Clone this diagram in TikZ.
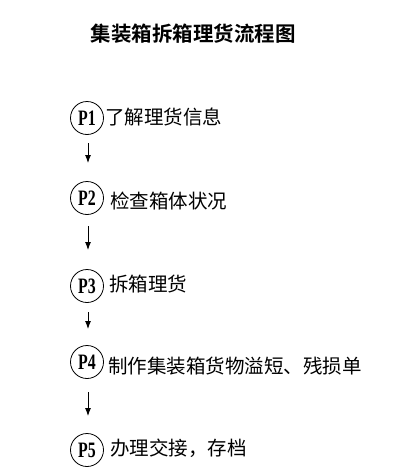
\documentclass[tikz,border=0pt]{standalone}
\usepackage{fontspec}
\usepackage{tikz}
\usetikzlibrary{arrows.meta}
\setmainfont{Liberation Serif}
\newfontfamily\cjk{Noto Sans CJK SC}
\newfontfamily\cjkbold{Noto Sans CJK SC Bold}

\tikzset{
  stepcirc/.style={draw, thick, circle, minimum size=33pt, inner sep=0pt,
    font=\fontsize{22}{22}\selectfont\bfseries},
  steptext/.style={anchor=west, inner sep=0pt, font=\fontsize{19.5}{20}\cjk},
  steparrow/.style={line width=0.9pt, -{Latex[length=8pt,width=6pt]}}
}

\begin{document}
\begin{tikzpicture}[x=1pt,y=-1pt]
\useasboundingbox (0,0) rectangle (412,471);

% Title
\node[font=\fontsize{20.5}{21}\cjkbold] (title) at (193,34) {集装箱拆箱理货流程图};

% Step circles
\node[stepcirc] (p1) at (87,118) {\scalebox{0.72}[1]{P1}};
\node[stepcirc] (p2) at (87,198) {\scalebox{0.72}[1]{P2}};
\node[stepcirc] (p3) at (87,286) {\scalebox{0.72}[1]{P3}};
\node[stepcirc] (p4) at (87,362) {\scalebox{0.72}[1]{P4}};
\node[stepcirc] (p5) at (87,450) {\scalebox{0.72}[1]{P5}};

% Step texts
\node[steptext] (t1) at (105,117) {了解理货信息};
\node[steptext] (t2) at (110,201) {检查箱体状况};
\node[steptext] (t3) at (109,284) {拆箱理货};
\node[steptext] (t4) at (108,366) {制作集装箱货物溢短、残损单};
\node[steptext] (t5) at (110,448) {办理交接，存档};

% Arrows
\coordinate (a1s) at (88,143);
\coordinate (a1e) at (88,163);
\coordinate (a2s) at (88,226);
\coordinate (a2e) at (88,250);
\coordinate (a3s) at (88,312);
\coordinate (a3e) at (88,329);
\coordinate (a4s) at (88,392);
\coordinate (a4e) at (88,416);
\draw[steparrow] (a1s) -- (a1e);
\draw[steparrow] (a2s) -- (a2e);
\draw[steparrow] (a3s) -- (a3e);
\draw[steparrow] (a4s) -- (a4e);
\end{tikzpicture}
\end{document}
